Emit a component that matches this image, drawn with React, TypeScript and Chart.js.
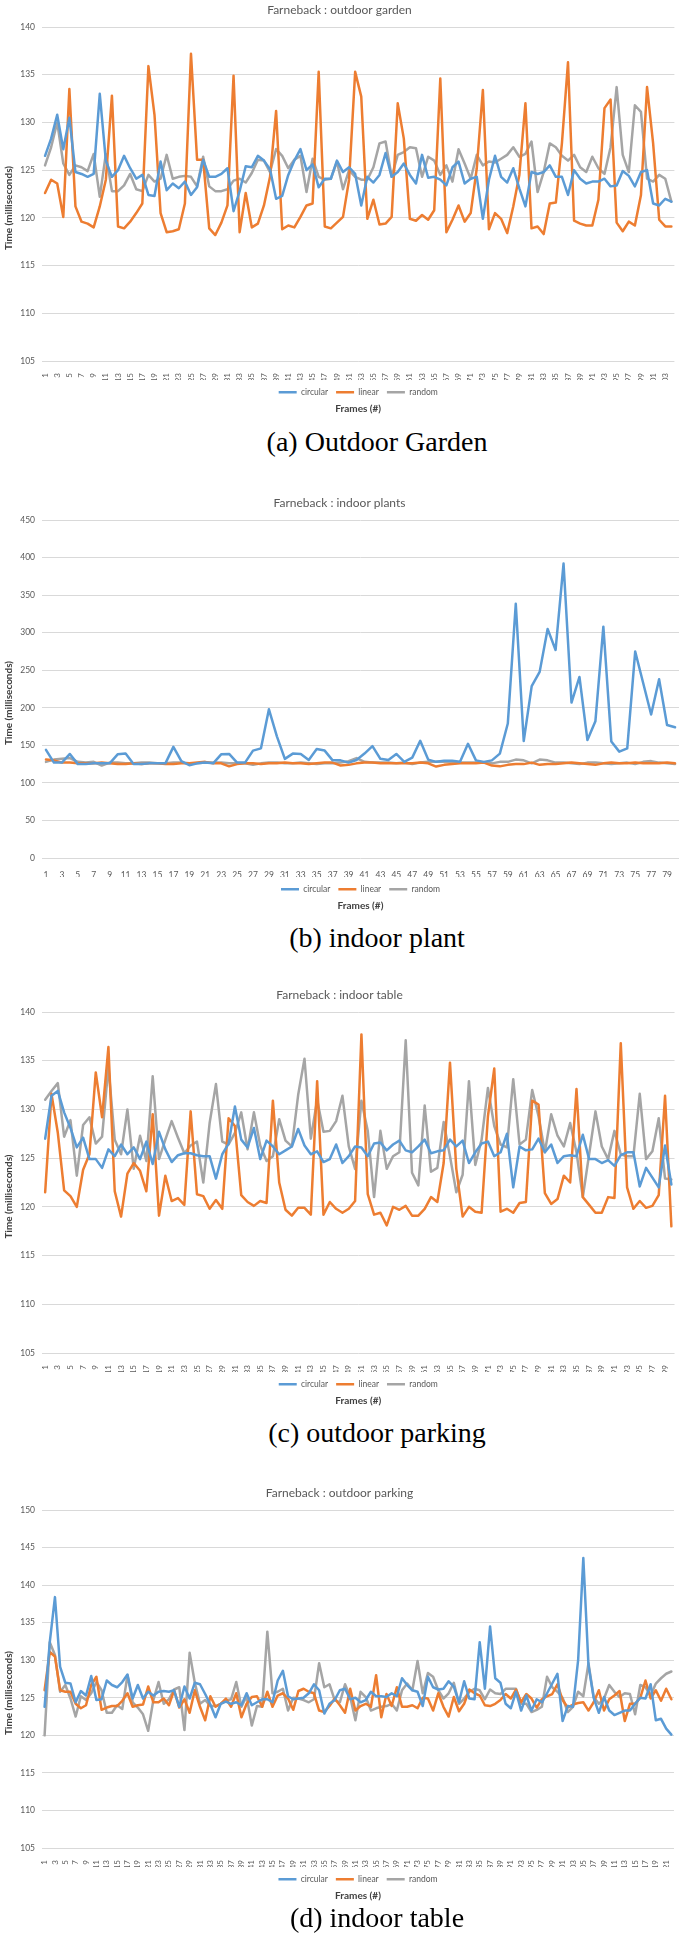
import React, { useEffect, useRef } from 'react';
import { Chart, registerables } from 'chart.js';

Chart.register(...registerables);

const FONT = 'Lato, "Open Sans", sans-serif';
const BLUE = '#5B9BD5';
const ORANGE = '#ED7D31';
const GRAY = '#A5A5A5';

// ---------- categories ----------
const frames104 = Array.from({ length: 104 }, (_, i) => String(i + 1));
const frames80 = Array.from({ length: 80 }, (_, i) => String(i + 1));
const frames100 = Array.from({ length: 100 }, (_, i) => String(i + 1));
const frames122 = Array.from({ length: 122 }, (_, i) => String(i + 1));

// ---------- (a) outdoor garden ----------
const gardenCircular = [126.5,128.3,130.8,127.2,130.5,124.8,124.6,124.3,124.6,133.0,
126.0,124.3,125.0,126.5,125.2,124.1,124.5,122.4,122.3,125.9,
122.9,123.6,123.1,123.8,122.4,123.2,126.1,124.3,124.3,124.6,
125.2,120.7,122.8,125.4,125.3,126.5,126.0,125.1,122.0,122.3,
124.5,126.0,127.2,125.0,125.6,123.2,124.1,124.1,126.0,124.8,
125.3,124.6,121.3,124.3,123.7,124.5,126.8,124.3,124.8,125.7,
124.5,123.6,126.6,124.2,124.3,124.0,123.4,125.3,125.9,123.6,
124.1,124.3,119.9,124.0,126.5,124.3,123.7,125.2,123.1,121.2,
124.8,124.6,124.8,125.5,124.3,124.3,122.4,125.0,124.1,123.6,
123.8,123.8,124.1,123.3,123.4,124.9,124.4,123.3,124.8,125.0,
121.5,121.3,122.0,121.7];
const gardenLinear = [122.6,124.0,123.6,120.1,133.5,121.2,119.6,119.4,119.0,121.2,
124.0,132.8,119.1,118.9,119.6,120.5,121.5,135.9,130.8,120.5,
118.5,118.6,118.8,121.5,137.2,126.1,126.1,118.9,118.2,119.5,
121.3,134.9,118.5,122.6,119.0,119.4,121.3,124.3,131.2,118.8,
119.2,119.0,120.1,121.3,121.5,135.3,119.1,118.9,119.5,120.1,
124.0,135.3,132.7,119.9,121.9,119.3,119.4,120.1,132.0,128.3,
119.9,119.7,120.3,119.8,120.8,134.6,118.5,119.8,121.3,119.6,
120.5,125.2,133.4,118.8,120.5,119.9,118.4,121.2,124.5,132.0,
118.9,119.1,118.3,121.5,121.6,127.8,136.3,119.7,119.4,119.2,
119.2,121.9,131.5,132.4,119.5,118.6,119.6,119.2,122.4,133.7,
127.8,119.8,119.1,119.1];
const gardenRandom = [125.5,127.4,130.0,125.7,124.5,125.5,125.3,124.9,126.7,122.2,
126.7,122.8,122.8,123.4,124.6,123.0,122.8,124.5,123.8,124.1,
126.6,124.1,124.3,124.4,124.3,123.3,126.4,123.3,122.8,122.8,
123.0,123.9,124.1,123.7,124.7,126.1,126.0,124.8,127.2,126.5,
125.2,126.1,126.5,122.7,126.2,124.3,124.0,124.1,125.9,123.0,
125.0,124.3,124.0,124.0,125.3,127.8,128.0,124.3,126.6,126.9,
127.4,127.3,124.3,126.4,126.0,124.5,125.5,123.8,127.2,125.7,
124.1,126.6,125.5,125.9,125.8,126.2,126.6,127.4,126.4,126.7,
128.0,122.7,124.8,127.8,127.4,126.5,126.0,126.6,125.3,124.8,
126.4,125.2,124.6,127.4,133.7,126.6,124.8,131.8,131.1,124.1,
123.8,124.5,124.1,121.7];

// ---------- (b) indoor plant ----------
const plantCircular = [144,127,127,138.5,125,125,126,126,126,138,
139,125,125,126,126,126,148,129,123.5,126,
127,126,138,138.5,127,127,143,146,198,162,
132,139,138.5,130.5,145,143,130,130,127,130.5,
139,149,132,130.5,138.5,128,133.6,156,131,128,
129.6,129.6,128,152,130,128,130,139,179,338.5,
155.8,228.8,247.8,305,277,392,207,241,157,182,
308,155,141.6,146,275,233,191,238,177,174];
const plantLinear = [131,130,127,127,126,126,126,127,126,125,
125,126,125,126,126,125,125,126,126,127,
128,126,126,122,125,126,126,125,126,126,
127,126,126,125,126,127,127,123,124,126,
127,127,126,126,126,126,126,127,126,121.7,
124,125,126,126,126,127,123,122,124,125,
125,127,124,125,125,126,127,126,125,124,
126,127,126,126,127,126,126,126,127,126];
const plantRandom = [128,131,132,133,128,127,128,123,127,127,
126,126,127,127,126,126,127,127,126,126,
127,127,127,126,126,126,124,126,127,127,
126,126,127,126,125,126,126,127,129,133,
128,127,127,127,126,127,125,127,128,128,
128,128,127,127,127,127,126,128,128,131,
130,126,131,130,127,127,126,125,127,127,
126,125,126,127,125,128,129,127,126,125];

// ---------- (c) panel titled "indoor table" ----------
const tableCircular = [127.0,131.4,131.9,129.7,128.1,126.1,127.1,124.9,124.9,124.0,
125.9,125.2,126.4,125.4,126.1,124.9,126.7,124.4,127.7,125.9,
124.6,125.3,125.5,125.5,125.3,125.2,125.2,122.9,125.4,126.5,
130.3,126.9,126.1,128.1,124.9,126.8,126.2,125.4,125.8,126.2,
128.0,126.3,125.4,125.7,124.6,124.9,126.4,124.5,125.2,126.2,
126.1,125.2,126.5,126.6,125.8,126.4,126.8,125.8,125.6,126.2,
126.9,125.5,125.7,125.8,126.9,126.2,126.8,124.5,125.6,126.5,
126.7,125.2,125.6,127.5,122.0,126.2,125.8,125.9,127.0,125.6,
126.4,124.5,125.2,125.3,125.2,127.4,124.9,124.9,124.5,124.8,
124.2,125.3,125.6,125.6,122.1,124.0,123.0,122.0,126.3,122.3];
const tableLinear = [121.5,131.6,127.6,121.7,121.1,120.0,123.8,125.4,133.8,129.2,
136.4,121.6,119.0,123.4,124.5,123.7,121.6,129.5,119.1,123.2,
120.6,120.9,120.2,129.8,121.3,121.1,119.8,120.7,119.8,129.1,
128.3,121.2,120.5,120.1,120.6,120.4,130.9,122.5,119.7,119.1,
119.9,119.9,119.2,132.9,119.2,120.5,119.8,119.4,119.8,120.6,
137.7,121.3,119.2,119.4,118.1,120.0,119.7,120.1,119.1,119.1,
119.8,121.0,120.5,124.5,134.8,123.9,119.0,120.0,119.5,119.4,
129.3,134.2,119.5,119.8,119.4,120.4,120.5,130.9,130.5,121.4,
120.3,120.8,123.2,122.5,132.1,121.0,120.2,119.4,119.4,121.0,
120.9,136.8,122.0,119.8,120.6,119.9,120.1,121.2,131.4,118.0];
const tableRandom = [131.0,131.9,132.7,127.2,128.9,123.2,128.4,129.2,126.5,127.2,
134.4,126.9,125.4,130.0,123.9,127.3,124.7,133.4,124.9,126.9,
128.8,127.1,125.5,126.3,126.7,122.5,128.6,132.6,126.7,126.4,
127.6,129.7,125.9,129.7,126.3,124.7,125.2,129.0,126.8,126.2,
131.5,135.2,127.0,131.0,127.7,127.8,128.8,131.4,126.2,123.9,
130.9,127.8,121.0,127.8,123.9,125.2,125.6,137.1,123.5,122.2,
130.4,123.6,124.0,128.7,125.2,121.5,123.3,132.9,124.3,126.9,
132.2,128.3,126.4,126.1,133.1,126.4,126.9,132.0,129.3,125.6,
129.5,127.3,126.2,128.6,125.6,121.0,125.4,129.8,126.2,124.9,
127.8,125.4,125.2,125.2,131.6,124.9,125.7,129.1,122.9,122.8];

// ---------- (d) panel titled "outdoor parking" ----------
const parkingCircular = [123.8,132.4,138.4,129.1,127.0,126.9,124.4,125.9,125.3,127.9,
124.7,124.8,127.3,126.7,126.4,127.1,128.1,124.9,126.7,124.9,
125.8,125.3,125.8,125.9,125.8,126.0,123.8,126.5,124.9,127.0,
126.8,125.5,124.1,122.4,124.2,124.5,124.2,124.4,124.0,125.6,
124.0,124.4,124.8,124.8,124.4,127.3,128.6,125.2,124.8,124.9,
125.0,125.6,126.8,126.0,122.9,124.2,
124.7,126.0,126.2,124.8,125.0,124.4,124.7,125.8,125.2,125.2,
125.1,125.6,125.2,127.6,126.7,126.0,125.8,123.9,127.8,126.4,
126.1,126.2,127.2,126.5,124.4,127.2,124.9,124.8,132.4,126.2,
134.5,127.6,127.0,124.2,123.6,125.8,123.3,125.3,123.3,124.8,
124.4,125.6,126.9,128.2,121.9,123.9,123.8,130.0,143.6,129.3,
125.0,123.0,125.1,123.3,122.7,123.0,123.3,123.3,124.2,125.0,
124.9,126.8,122.0,122.2,120.9,120.1];
const parkingLinear = [126.0,131.1,130.5,126.0,125.8,125.8,124.2,123.6,124.0,126.7,
127.8,123.4,123.7,123.9,123.9,124.6,125.6,123.8,124.0,124.1,
126.5,124.4,124.4,124.9,124.0,126.0,123.7,124.8,123.0,126.0,
123.8,122.0,125.2,123.8,124.2,124.9,123.8,125.6,122.4,124.2,
125.1,125.2,123.8,125.8,123.8,125.3,125.6,124.9,123.4,125.9,
126.2,125.8,125.6,123.3,123.1,123.9,
124.9,124.0,123.0,126.2,123.3,123.9,124.2,123.8,128.0,122.4,
125.5,123.9,126.4,123.8,123.8,124.0,123.6,125.0,124.9,123.3,
125.6,123.8,122.5,125.1,123.2,124.2,126.1,125.6,125.3,124.0,
123.9,124.2,124.7,125.5,124.9,126.1,124.4,125.5,124.9,123.7,
124.8,125.2,125.5,126.8,124.7,123.7,124.1,124.3,124.4,123.3,
124.4,126.0,123.3,124.8,125.3,125.9,121.9,124.2,124.2,125.0,
127.3,124.9,126.0,124.6,126.2,124.8];
const parkingRandom = [120.0,132.4,130.7,125.8,126.7,124.9,122.5,125.2,124.7,125.6,
127.1,126.0,123.0,123.0,124.0,123.5,128.0,124.4,123.7,122.8,
120.6,124.7,127.1,124.2,124.8,126.1,126.4,120.7,131.0,127.0,
124.2,124.7,123.9,123.9,124.2,124.6,124.8,127.1,123.8,125.2,
121.3,123.9,123.8,133.8,125.6,125.8,126.2,123.3,125.0,124.9,
124.7,124.4,124.8,129.6,126.4,126.8,
124.7,124.4,126.8,125.1,122.0,125.8,125.1,123.3,123.6,123.8,
123.9,124.2,123.3,126.0,126.9,126.0,129.9,125.6,128.3,127.8,
126.0,124.9,125.6,127.0,124.2,124.9,125.8,126.2,126.0,124.8,
126.1,125.6,125.5,126.2,126.2,126.2,124.2,124.2,123.1,123.4,
123.8,127.8,126.4,125.8,125.0,123.1,123.8,125.8,125.2,129.6,
125.1,124.2,124.9,126.7,125.8,125.1,125.6,125.5,122.8,126.7,
126.4,125.3,126.9,127.6,128.2,128.5];

const seriesNames = ['circular', 'linear', 'random'];
const seriesColors = [BLUE, ORANGE, GRAY];

const yTitlePlugin = {
  id: 'yTitle',
  afterDraw(chart: any, _args: any, opts: any) {
    const { ctx, chartArea } = chart;
    ctx.save();
    ctx.translate(opts.x, (chartArea.top + chartArea.bottom) / 2 + opts.dy);
    ctx.rotate(-Math.PI / 2);
    ctx.font = `bold 10px ${FONT}`;
    ctx.fillStyle = '#404040';
    ctx.textAlign = 'center';
    ctx.textBaseline = 'middle';
    ctx.fillText(opts.text, 0, 0);
    ctx.restore();
  },
};

type PanelCfg = {
  title: string;
  labels: string[];
  series: number[][];
  min: number;
  max: number;
  step: number;
  rotate: boolean;
};

function makeConfig(p: PanelCfg): any {
  return {
    type: 'line',
    data: {
      labels: p.labels,
      datasets: p.series.map((d, i) => ({
        label: seriesNames[i],
        data: d,
        borderColor: seriesColors[i],
        backgroundColor: seriesColors[i],
        borderWidth: 2.5,
        pointRadius: 0,
        tension: 0,
        borderJoinStyle: 'round',
        borderCapStyle: 'round',
      })),
    },
    options: {
      responsive: false,
      animation: false,
      layout: { padding: { left: 0, right: 6, top: 0, bottom: 0 } },
      plugins: {
        title: {
          display: true,
          text: p.title,
          color: '#595959',
          font: { family: FONT, size: 12, weight: 'normal' },
          padding: { top: 3, bottom: 9.6 },
        },
        subtitle: {
          display: true,
          position: 'bottom',
          text: 'Frames (#)',
          color: '#404040',
          fullSize: false,
          font: { family: FONT, size: 10, weight: 'bold' },
          padding: { top: 7, bottom: 2 },
        },
        legend: {
          position: 'bottom',
          fullSize: false,
          maxHeight: 16,
          labels: {
            usePointStyle: true,
            pointStyle: 'line',
            pointStyleWidth: 18,
            padding: 8,
            color: '#595959',
            font: { family: FONT, size: 8.5 },
          },
        },
        tooltip: { enabled: false },
        yTitle: { text: 'Time (milliseconds)', x: 9, dy: 14 },
      },
      scales: {
        x: {
          offset: true,
          grid: { display: false },
          border: { display: false },
          ticks: {
            autoSkip: false,
            maxRotation: p.rotate ? 90 : 0,
            minRotation: p.rotate ? 90 : 0,
            padding: 4,
            color: '#595959',
            font: { family: FONT, size: p.rotate ? 8 : 8.5 },
            callback: (_v: any, i: number) => (i % 2 === 0 ? p.labels[i] : ''),
          },
          afterFit: (s: any) => { s.height = 19; },
        },
        y: {
          min: p.min,
          max: p.max,
          ticks: {
            stepSize: p.step,
            padding: 7,
            color: '#595959',
            font: { family: FONT, size: 8.5 },
          },
          grid: { color: '#D9D9D9', drawTicks: false, lineWidth: 1 },
          border: { display: false },
          afterFit: (s: any) => { s.width = 42; },
        },
      },
    },
    plugins: [yTitlePlugin],
  };
}

function Panel({ top, height, cfg }: { top: number; height: number; cfg: PanelCfg }) {
  const ref = useRef<HTMLCanvasElement>(null);
  useEffect(() => {
    const chart = new Chart(ref.current as HTMLCanvasElement, makeConfig(cfg));
    return () => chart.destroy();
  }, []);
  return (
    <canvas
      ref={ref}
      width={685}
      height={height}
      style={{ position: 'absolute', left: 0, top, width: 685, height }}
    />
  );
}

function Caption({ y, text }: { y: number; text: string }) {
  return (
    <div
      style={{
        position: 'absolute',
        left: 377,
        top: y - 16,
        transform: 'translateX(-50%)',
        whiteSpace: 'nowrap',
        fontFamily: '"Liberation Serif", "DejaVu Serif", serif',
        fontSize: 28,
        lineHeight: '32px',
        color: '#000',
      }}
    >
      {text}
    </div>
  );
}

export default function App() {
  return (
    <div style={{ position: 'absolute', left: 0, top: 0, width: 685, height: 1938, background: '#fff', overflow: 'hidden' }}>
      <Panel top={0} height={27 + 334 + 56} cfg={{ title: 'Farneback : outdoor garden', labels: frames104, series: [gardenCircular, gardenLinear, gardenRandom], min: 105, max: 140, step: 5, rotate: true }} />
      <Caption y={442} text="(a) Outdoor Garden" />
      <Panel top={493} height={27 + 338 + 56} cfg={{ title: 'Farneback : indoor plants', labels: frames80, series: [plantCircular, plantLinear, plantRandom], min: 0, max: 450, step: 50, rotate: false }} />
      <Caption y={938} text="(b) indoor plant" />
      <Panel top={985} height={27 + 341 + 56} cfg={{ title: 'Farneback : indoor table', labels: frames100, series: [tableCircular, tableLinear, tableRandom], min: 105, max: 140, step: 5, rotate: true }} />
      <Caption y={1433} text="(c) outdoor parking" />
      <Panel top={1483} height={27 + 338 + 56} cfg={{ title: 'Farneback : outdoor parking', labels: frames122, series: [parkingCircular, parkingLinear, parkingRandom], min: 105, max: 150, step: 5, rotate: true }} />
      <Caption y={1918} text="(d) indoor table" />
    </div>
  );
}
